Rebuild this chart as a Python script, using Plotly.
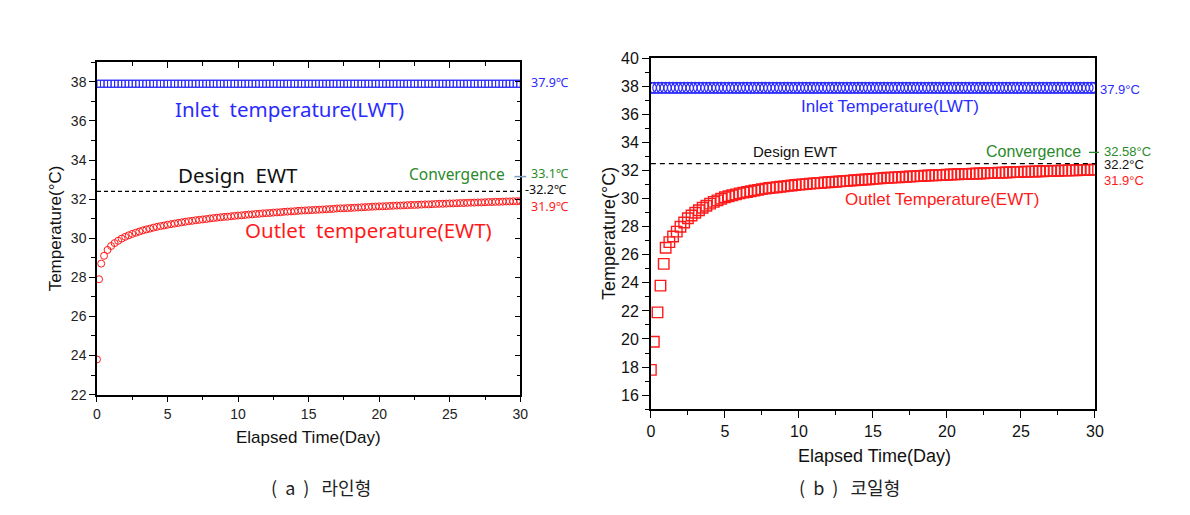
import plotly.graph_objects as go

W, H = 1190, 515

# ---------------- data ----------------
days_grid = [
    1.0, 1.25, 1.5, 1.75, 2.0, 2.25, 2.5, 2.75, 3.0, 3.25, 3.5, 3.75,
    4.0, 4.25, 4.5, 4.75, 5.0, 5.25, 5.5, 5.75, 6.0, 6.25, 6.5, 6.75,
    7.0, 7.25, 7.5, 7.75, 8.0, 8.25, 8.5, 8.75, 9.0, 9.25, 9.5, 9.75,
    10.0, 10.25, 10.5, 10.75, 11.0, 11.25, 11.5, 11.75, 12.0, 12.25, 12.5, 12.75,
    13.0, 13.25, 13.5, 13.75, 14.0, 14.25, 14.5, 14.75, 15.0, 15.25, 15.5, 15.75,
    16.0, 16.25, 16.5, 16.75, 17.0, 17.25, 17.5, 17.75, 18.0, 18.25, 18.5, 18.75,
    19.0, 19.25, 19.5, 19.75, 20.0, 20.25, 20.5, 20.75, 21.0, 21.25, 21.5, 21.75,
    22.0, 22.25, 22.5, 22.75, 23.0, 23.25, 23.5, 23.75, 24.0, 24.25, 24.5, 24.75,
    25.0, 25.25, 25.5, 25.75, 26.0, 26.25, 26.5, 26.75, 27.0, 27.25, 27.5, 27.75,
    28.0, 28.25, 28.5, 28.75, 29.0, 29.25, 29.5, 29.75, 30.0,
]

# (a) line type
days_a_early = [0.0, 0.15, 0.3, 0.5, 0.75]
outlet_a_early = [23.8, 27.9, 28.7, 29.1, 29.4]
outlet_a_main = [
    29.60, 29.75, 29.87, 29.98, 30.07, 30.15, 30.22, 30.28, 30.34, 30.40, 30.45, 30.49,
    30.54, 30.58, 30.62, 30.65, 30.69, 30.72, 30.75, 30.78, 30.81, 30.84, 30.87, 30.89,
    30.92, 30.94, 30.96, 30.98, 31.01, 31.03, 31.05, 31.07, 31.09, 31.10, 31.12, 31.14,
    31.16, 31.17, 31.19, 31.21, 31.22, 31.24, 31.25, 31.27, 31.28, 31.29, 31.31, 31.32,
    31.33, 31.35, 31.36, 31.37, 31.38, 31.40, 31.41, 31.42, 31.43, 31.44, 31.45, 31.46,
    31.47, 31.48, 31.49, 31.50, 31.52, 31.53, 31.53, 31.54, 31.55, 31.56, 31.57, 31.58,
    31.59, 31.60, 31.61, 31.62, 31.63, 31.63, 31.64, 31.65, 31.66, 31.67, 31.67, 31.68,
    31.69, 31.70, 31.70, 31.71, 31.72, 31.73, 31.73, 31.74, 31.75, 31.76, 31.76, 31.77,
    31.78, 31.78, 31.79, 31.80, 31.80, 31.81, 31.82, 31.82, 31.83, 31.83, 31.84, 31.85,
    31.85, 31.86, 31.86, 31.87, 31.88, 31.88, 31.89, 31.89, 31.90,
]
days_a = days_a_early + days_grid
outlet_a = outlet_a_early + outlet_a_main

# (b) coil type
days_b_early = [0.0, 0.2, 0.45, 0.65, 0.87]
outlet_b_early = [17.8, 19.8, 21.9, 23.8, 25.35]
outlet_b_main = [
    26.50, 26.90, 27.30, 27.65, 28.00, 28.30, 28.60, 28.80, 29.00, 29.18, 29.35, 29.50,
    29.65, 29.77, 29.88, 29.99, 30.10, 30.17, 30.24, 30.31, 30.38, 30.43, 30.48, 30.53,
    30.58, 30.63, 30.68, 30.72, 30.76, 30.79, 30.82, 30.85, 30.88, 30.91, 30.94, 30.97,
    31.00, 31.02, 31.04, 31.07, 31.09, 31.11, 31.13, 31.15, 31.17, 31.19, 31.21, 31.23,
    31.25, 31.27, 31.29, 31.31, 31.33, 31.35, 31.37, 31.39, 31.41, 31.43, 31.45, 31.47,
    31.49, 31.50, 31.52, 31.53, 31.55, 31.56, 31.58, 31.59, 31.61, 31.62, 31.63, 31.65,
    31.66, 31.67, 31.68, 31.70, 31.71, 31.72, 31.73, 31.74, 31.75, 31.76, 31.77, 31.78,
    31.79, 31.80, 31.81, 31.82, 31.83, 31.84, 31.85, 31.86, 31.87, 31.88, 31.89, 31.90,
    31.91, 31.92, 31.93, 31.93, 31.94, 31.95, 31.96, 31.97, 31.98, 31.98, 31.99, 32.00,
    32.01, 32.02, 32.02, 32.03, 32.04, 32.05, 32.05, 32.06, 32.07,
]
days_b = days_b_early + days_grid
outlet_b = outlet_b_early + outlet_b_main

days_inlet = [0.0, 0.25, 0.5, 0.75] + days_grid
inlet_temp = 37.9
inlet_a = [inlet_temp] * len(days_inlet)
inlet_b = [inlet_temp] * len(days_inlet)

design_a = 32.4
design_b = 32.5

x_ticks = [0, 5, 10, 15, 20, 25, 30]

# ---------------- styling ----------------
BLUE = "#2b2bff"
RED = "#ff1a1a"
GREEN = "#2a8a2a"
AX = "Liberation Sans"
KR = "Noto Sans CJK KR"


def px_x(p):
    return p / W


def px_y(p):
    return 1 - p / H


dom_xa = [px_x(94), px_x(522)]
dom_ya = [px_y(399), px_y(56)]
dom_xb = [px_x(654), px_x(1103)]
dom_yb = [px_y(414), px_y(52)]

fig = go.Figure()

fig.add_trace(go.Scatter(
    x=days_inlet, y=inlet_a, mode="markers", xaxis="x", yaxis="y",
    marker=dict(symbol="square-open", size=7, color=BLUE, line=dict(width=1, color=BLUE)),
    showlegend=False, hoverinfo="x+y"))
fig.add_trace(go.Scatter(
    x=days_a, y=outlet_a, mode="markers", xaxis="x", yaxis="y",
    marker=dict(symbol="circle-open", size=7, color=RED, line=dict(width=1, color=RED)),
    showlegend=False, hoverinfo="x+y"))
fig.add_trace(go.Scatter(
    x=days_inlet, y=inlet_b, mode="markers", xaxis="x2", yaxis="y2",
    marker=dict(symbol="circle-open", size=11, color=BLUE, line=dict(width=1.2, color=BLUE)),
    showlegend=False, hoverinfo="x+y"))
fig.add_trace(go.Scatter(
    x=days_b, y=outlet_b, mode="markers", xaxis="x2", yaxis="y2",
    marker=dict(symbol="square-open", size=10.5, color=RED, line=dict(width=1.4, color=RED)),
    showlegend=False, hoverinfo="x+y"))
# carrier for the inward mirror axes of panel (a)
fig.add_trace(go.Scatter(
    x=[days_a[0]], y=[outlet_a[0]], mode="markers", xaxis="x3", yaxis="y3",
    marker=dict(opacity=0), showlegend=False, hoverinfo="skip"))

common = dict(showgrid=False, zeroline=False, showline=True, linecolor="black",
              linewidth=1.5, tickcolor="black", tickwidth=1.3)

fig.update_layout(
    width=W, height=H, margin=dict(l=0, r=0, t=0, b=0),
    paper_bgcolor="white", plot_bgcolor="white",
    xaxis=dict(domain=dom_xa, anchor="y", range=[0, 30], tickvals=x_ticks,
               ticks="outside", ticklen=6,
               minor=dict(ticks="outside", ticklen=4, dtick=2.5, tick0=0, tickcolor="black"),
               tickfont=dict(family=AX, size=14, color="#222"), **common),
    yaxis=dict(domain=dom_ya, anchor="x", range=[22, 39], dtick=2, tick0=0,
               ticks="outside", ticklen=6,
               minor=dict(ticks="outside", ticklen=4, dtick=1, tick0=0, tickcolor="black"),
               tickfont=dict(family=AX, size=14, color="#222"), **common),
    xaxis3=dict(overlaying="x", side="top", anchor="y3", range=[0, 30], tickvals=x_ticks,
                ticks="inside", ticklen=6, showticklabels=False,
                minor=dict(ticks="inside", ticklen=4, dtick=2.5, tick0=0, tickcolor="black"),
                **common),
    yaxis3=dict(overlaying="y", side="right", anchor="x3", range=[22, 39], dtick=2, tick0=0,
                ticks="inside", ticklen=6, showticklabels=False,
                minor=dict(ticks="inside", ticklen=4, dtick=1, tick0=0, tickcolor="black"),
                **common),
    xaxis2=dict(domain=dom_xb, anchor="y2", range=[0, 30], tickvals=x_ticks,
                ticks="outside", ticklen=7, mirror=True,
                minor=dict(ticks="outside", ticklen=4, dtick=2.5, tick0=0, tickcolor="black"),
                tickfont=dict(family=AX, size=16, color="#111"), **common),
    yaxis2=dict(domain=dom_yb, anchor="x2", range=[15, 40], dtick=2, tick0=0,
                ticks="outside", ticklen=7, mirror=True,
                minor=dict(ticks="outside", ticklen=4, dtick=1, tick0=0, tickcolor="black"),
                tickfont=dict(family=AX, size=16, color="#111"), **common),
)

# design EWT dashed lines
fig.add_shape(type="line", xref="x domain", yref="y", x0=0, x1=1, y0=design_a, y1=design_a,
              line=dict(color="black", width=1.2, dash="4px,3px"))
fig.add_shape(type="line", xref="x2 domain", yref="y2", x0=0, x1=1, y0=design_b, y1=design_b,
              line=dict(color="black", width=1.2, dash="5px,4px"))
# convergence ticks
fig.add_shape(type="line", xref="paper", yref="paper", x0=px_x(516), x1=px_x(528),
              y0=px_y(174), y1=px_y(174), line=dict(color="#7c9fc2", width=1.5))
fig.add_shape(type="line", xref="paper", yref="paper", x0=px_x(1097), x1=px_x(1107),
              y0=px_y(149), y1=px_y(149), line=dict(color=GREEN, width=1.3))


def ann(text, px, py, size, color, family, anchor="center", angle=0):
    fig.add_annotation(text=text, x=px_x(px), y=px_y(py), xref="paper", yref="paper",
                       xanchor=anchor, yanchor="middle", showarrow=False, textangle=angle,
                       borderpad=0, font=dict(size=size, color=color, family=family))


# panel (a) texts
ann("Inlet  temperature(LWT)", 289, 104, 20.5, BLUE, "Noto Sans")
ann("Design  EWT", 237, 172, 20.5, "#111", "Noto Sans")
ann("Outlet  temperature(EWT)", 369, 229, 20.5, RED, "Noto Sans")
ann("Convergence", 508, 171, 15.5, GREEN, "Noto Sans", anchor="right")
ann("33.1℃", 532, 171, 12.5, GREEN, "Noto Sans", anchor="left")
ann("-32.2℃", 526, 187, 12.5, "#111", "Noto Sans", anchor="left")
ann("31.9℃", 532, 205, 12.5, RED, "Noto Sans", anchor="left")
ann("37.9℃", 532, 77, 12.5, BLUE, "Noto Sans", anchor="left")
ann("Elapsed Time(Day)", 308, 443, 17, "#111", AX)
ann("Temperature(°C)", 53, 227, 17, "#111", AX, angle=-90)

# panel (b) texts
ann("Inlet Temperature(LWT)", 896, 102, 17, BLUE, AX)
ann("Design EWT", 800, 148, 15, "#111", AX)
ann("Outlet Temperature(EWT)", 948, 198, 17, RED, AX)
ann("Convergence", 1090, 148, 16, GREEN, AX, anchor="right")
ann("32.58°C", 1111, 148, 13, GREEN, AX, anchor="left")
ann("32.2°C", 1111, 162, 13, "#111", AX, anchor="left")
ann("31.9°C", 1111, 178, 13, RED, AX, anchor="left")
ann("37.9°C", 1107, 84, 13, BLUE, AX, anchor="left")
ann("Elapsed Time(Day)", 880, 462, 18, "#111", AX)
ann("Temperature(°C)", 611, 233, 18, "#111", AX, angle=-90)

# captions
ann("(  a  )   라인형", 321, 494, 18, "#222", KR)
ann("(  b  )   코일형", 855, 494, 18, "#222", KR)

fig.write_html(
    "out.html",
    config={"displayModeBar": False},
    post_script="document.body.style.margin='0';document.body.style.overflow='hidden';",
)
